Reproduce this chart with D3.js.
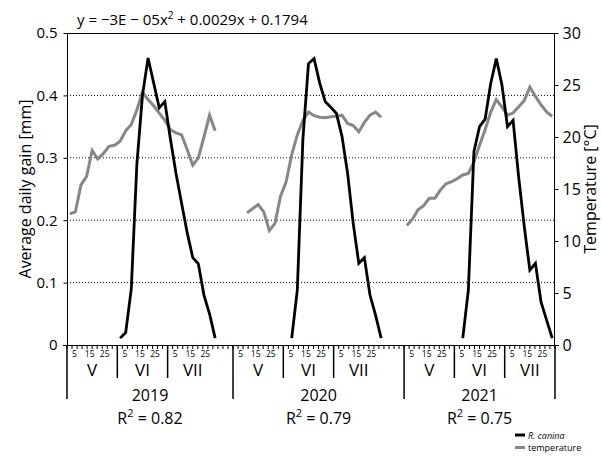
<!DOCTYPE html>
<html>
<head>
<meta charset="utf-8">
<script src="https://cdn.jsdelivr.net/npm/d3@7"></script>
<style>
  html, body { margin: 0; padding: 0; background: #fff; }
  svg { display: block; font-family: "Open Sans", "Noto Sans", sans-serif; }
</style>
</head>
<body>
<svg id="chart" width="602" height="457"></svg>
<script>
// ---------- data ----------
const years = ["2019", "2020", "2021"];
const r2Values = ["0.82", "0.79", "0.75"];
const months = ["V", "VI", "VII"];
// number of 3-day axis ticks in each month of each year
const monthTickCounts = [[10, 10, 13], [10, 10, 14], [10, 10, 10]];
const dayLabels = ["5", "15", "25"];
const dayLabelTicks = [1.5, 4.5, 7.5];
const pointsPerMonth = 9;
const gainTicks = [0, 0.1, 0.2, 0.3, 0.4, 0.5];
const tempTicks = [0, 5, 10, 15, 20, 25, 30];
const gridValues = [0.1, 0.2, 0.3, 0.4];

const N = null;
const gain2019 = [N, N, N, N, N, N, N, N, N, 0.011, 0.020, 0.09, 0.29, 0.40, 0.46, 0.42, 0.38, 0.39, 0.33, 0.275, 0.227, 0.18, 0.14, 0.13, 0.08, 0.05, 0.011];
const temp2019 = [12.6, 12.8, 15.4, 16.2, 18.7, 17.9, 18.4, 19.1, 19.2, 19.6, 20.6, 21.2, 22.6, 24.3, 23.6, 23.0, 22.3, 21.6, 20.7, 20.4, 20.2, 18.8, 17.3, 18.0, 20.0, 22.1, 20.6];
const gain2020 = [N, N, N, N, N, N, N, N, N, N, 0.011, 0.088, 0.33, 0.451, 0.459, 0.42, 0.39, 0.381, 0.371, 0.334, 0.275, 0.195, 0.131, 0.140, 0.080, 0.048, 0.011];
const temp2020 = [N, N, 12.7, 13.1, 13.5, 12.8, 11.0, 11.7, 14.3, 15.7, 18.3, 20.2, 21.6, 22.4, 22.05, 21.9, 21.85, 21.95, 22.0, 22.1, 21.3, 21.1, 20.5, 21.4, 22.1, 22.4, 21.9];
const gain2021 = [N, N, N, N, N, N, N, N, N, N, 0.011, 0.088, 0.31, 0.35, 0.362, 0.419, 0.459, 0.417, 0.35, 0.36, 0.269, 0.19, 0.12, 0.131, 0.069, 0.040, 0.011];
const temp2021 = [11.5, 12.1, 13.0, 13.4, 14.1, 14.1, 14.9, 15.5, 15.7, 16.0, 16.35, 16.5, 17.6, 19.2, 20.7, 22.4, 23.6, 22.9, 22.1, 22.3, 22.9, 23.5, 24.8, 23.9, 23.1, 22.4, 22.0];

const gainSeries = [gain2019, gain2020, gain2021];
const tempSeries = [temp2019, temp2020, temp2021];

// ---------- layout ----------
const W = 602, H = 457;
const margin = { left: 67, right: 47, top: 33, bottom: 112 };
const plotW = W - margin.left - margin.right;
const plotH = H - margin.top - margin.bottom;
const totalTicks = d3.sum(monthTickCounts.flat());

const x = d3.scaleLinear().domain([0, totalTicks]).range([margin.left, margin.left + plotW]);
const yL = d3.scaleLinear().domain([0, 0.5]).range([margin.top + plotH, margin.top]);
const yR = d3.scaleLinear().domain([0, 30]).range([margin.top + plotH, margin.top]);

const svg = d3.select("#chart");
const x0 = margin.left, x1 = margin.left + plotW, yb = margin.top + plotH, yt = margin.top;

// gridlines
svg.append("g").selectAll("line").data(gridValues).join("line")
  .attr("x1", x0).attr("x2", x1)
  .attr("y1", d => yL(d)).attr("y2", d => yL(d))
  .attr("stroke", "#000").attr("stroke-width", 1).attr("stroke-dasharray", "1,2");

// top frame line
svg.append("line").attr("x1", x0).attr("x2", x1).attr("y1", yt + 0.5).attr("y2", yt + 0.5)
  .attr("stroke", "#000").attr("stroke-width", 1);

// left axis
const leftAxis = d3.axisLeft(yL).tickValues(gainTicks).tickSize(4).tickPadding(6)
  .tickFormat(d => d === 0 ? "0" : d3.format(".1f")(d));
const gL = svg.append("g").attr("transform", `translate(${x0 + 0.5},0)`).call(leftAxis);
gL.select(".domain").attr("d", `M0,${yt}V${yb}`);
gL.selectAll("text").attr("font-size", 15).attr("font-family", "Open Sans").attr("fill", "#000");

// right axis
const rightAxis = d3.axisRight(yR).tickValues(tempTicks).tickSize(4).tickPadding(4);
const gR = svg.append("g").attr("transform", `translate(${x1 - 0.5},0)`).call(rightAxis);
gR.select(".domain").attr("d", `M0,${yt}V${yb}`);
gR.selectAll("text").attr("font-size", 16).attr("font-family", "Open Sans").attr("fill", "#000");

// axis titles
svg.append("text").attr("transform", `translate(31,${(yt + yb) / 2}) rotate(-90)`)
  .attr("text-anchor", "middle").attr("font-size", 16).text("Average daily gain [mm]");
svg.append("text").attr("transform", `translate(596,${(yt + yb) / 2}) rotate(-90)`)
  .attr("text-anchor", "middle").attr("font-size", 16).text("Temperature [°C]");

// equation
const eq = svg.append("text").attr("x", 77).attr("y", 25).attr("font-size", 15);
eq.append("tspan").text("y = −3E − 05x");
eq.append("tspan").attr("dy", -6).attr("font-size", 10).text("2");
eq.append("tspan").attr("dy", 6).text(" + 0.0029x + 0.1794");

// bottom multi-level axis
const gX = svg.append("g");
gX.append("line").attr("x1", x0 - 4).attr("x2", x1 + 4).attr("y1", yb + 0.5).attr("y2", yb + 0.5)
  .attr("stroke", "#000").attr("stroke-width", 1);
gX.selectAll(".minor").data(d3.range(0, totalTicks + 1)).join("line")
  .attr("x1", d => x(d)).attr("x2", d => x(d))
  .attr("y1", yb).attr("y2", yb + 4)
  .attr("stroke", "#000").attr("stroke-width", 1);

const yearOffsets = [];
let acc = 0;
monthTickCounts.forEach((mc, yi) => {
  yearOffsets.push(acc);
  const yStart = acc;
  mc.forEach((n, mi) => {
    const mStart = acc;
    if (mi > 0) {
      gX.append("line").attr("x1", x(mStart)).attr("x2", x(mStart))
        .attr("y1", yb).attr("y2", yb + 33).attr("stroke", "#000").attr("stroke-width", 1.5);
    }
    dayLabels.forEach((lab, li) => {
      gX.append("text").attr("x", x(mStart + dayLabelTicks[li])).attr("y", yb + 12)
        .attr("text-anchor", "middle").attr("font-size", 8.5).text(lab);
    });
    gX.append("text").attr("x", x(mStart + Math.min(n, 10) / 2)).attr("y", yb + 31)
      .attr("text-anchor", "middle").attr("font-size", 17).text(months[mi]);
    acc += n;
  });
  gX.append("line").attr("x1", x(yStart)).attr("x2", x(yStart))
    .attr("y1", yb).attr("y2", yb + 54).attr("stroke", "#000").attr("stroke-width", 1.5);
  const cx = x((yStart + acc) / 2);
  gX.append("text").attr("x", cx).attr("y", yb + 56).attr("text-anchor", "middle")
    .attr("font-size", 16).text(years[yi]);
  const r = gX.append("text").attr("x", cx).attr("y", yb + 79).attr("text-anchor", "middle").attr("font-size", 16);
  r.append("tspan").text("R");
  r.append("tspan").attr("dy", -7).attr("font-size", 11).text("2");
  r.append("tspan").attr("dy", 7).text(" = " + r2Values[yi]);
});
gX.append("line").attr("x1", x(totalTicks)).attr("x2", x(totalTicks))
  .attr("y1", yb).attr("y2", yb + 54).attr("stroke", "#000").attr("stroke-width", 1.5);

// ---------- lines ----------
const ticksPerPoint = 10 / pointsPerMonth;
function pts(arr, yi) {
  return arr.map((v, i) => ({ x: yearOffsets[yi] + (i + 0.5) * ticksPerPoint, v }));
}
const lineL = d3.line().defined(d => d.v !== null).x(d => x(d.x)).y(d => yL(d.v));
const lineR = d3.line().defined(d => d.v !== null).x(d => x(d.x)).y(d => yR(d.v));

tempSeries.forEach((s, yi) => {
  svg.append("path").datum(pts(s, yi)).attr("d", lineR)
    .attr("fill", "none").attr("stroke", "#878787").attr("stroke-width", 3)
    .attr("stroke-linejoin", "miter");
});
gainSeries.forEach((s, yi) => {
  svg.append("path").datum(pts(s, yi)).attr("d", lineL)
    .attr("fill", "none").attr("stroke", "#000").attr("stroke-width", 2.8)
    .attr("stroke-linejoin", "miter");
});

// ---------- legend ----------
const leg = svg.append("g").attr("transform", "translate(515,435)");
const legendItems = [{ label: "R. canina", color: "#000", italic: true }, { label: "temperature", color: "#878787", italic: false }];
legendItems.forEach((d, i) => {
  leg.append("line").attr("x1", 0).attr("x2", 10).attr("y1", i * 12.5).attr("y2", i * 12.5)
    .attr("stroke", d.color).attr("stroke-width", 3);
  leg.append("text").attr("x", 13).attr("y", i * 12.5 + 3.5).attr("font-size", 9)
    .attr("font-style", d.italic ? "italic" : "normal").text(d.label);
});
</script>
</body>
</html>
